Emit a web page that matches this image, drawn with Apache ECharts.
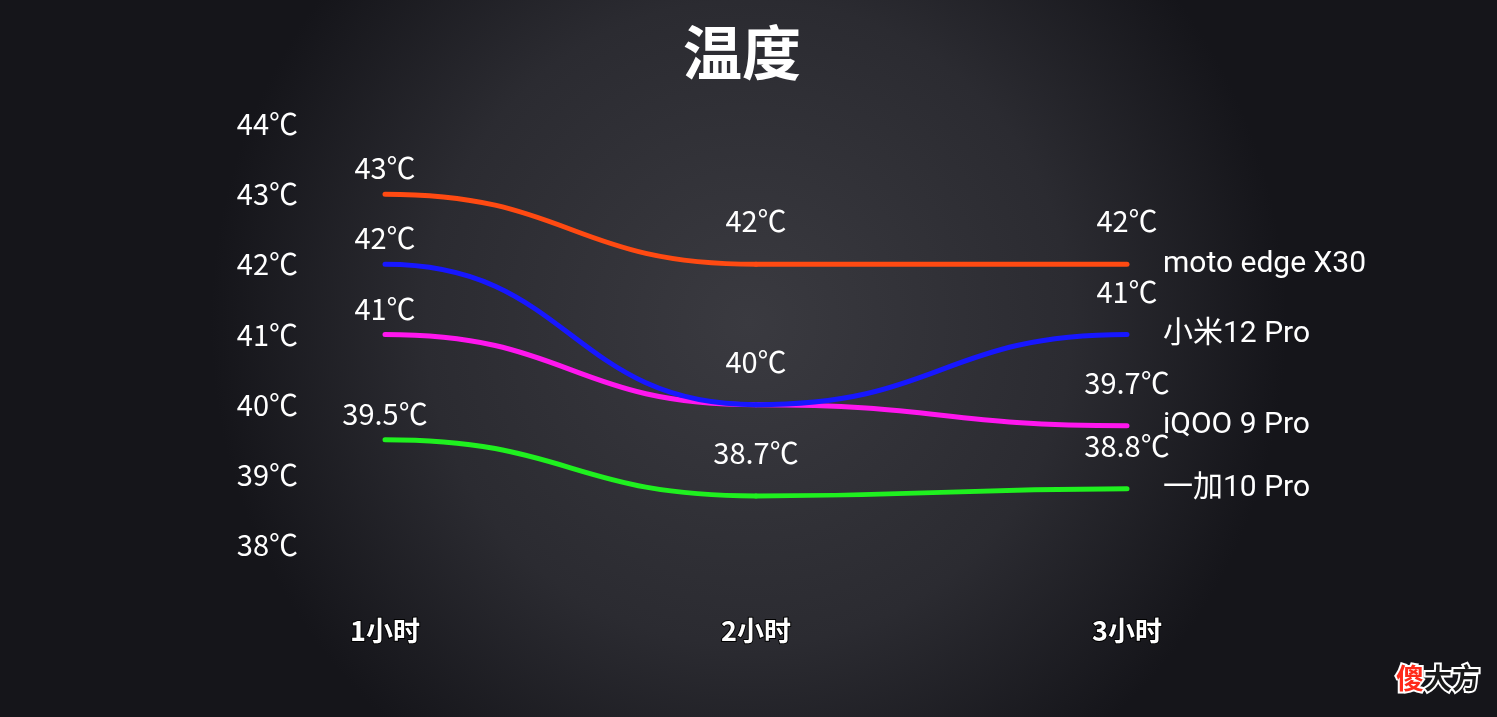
<!DOCTYPE html>
<html><head><meta charset="utf-8">
<script src="https://cdn.jsdelivr.net/npm/echarts@6/dist/echarts.min.js"></script>
<style>html,body{margin:0;padding:0;background:#1c1c20;}#c{width:1497px;height:717px;}</style>
</head><body><div id="c"></div>
<script>
const categories = ['1小时', '2小时', '3小时'];
const yTicks = [38, 39, 40, 41, 42, 43, 44];
const seriesNames = ['moto edge X30', 'iQOO 9 Pro', '小米12 Pro', '一加10 Pro'];
const motoValues = [43, 42, 42];
const iqooValues = [41, 40, 39.7];
const xiaomiValues = [42, 40, 41];
const oneplusValues = [39.5, 38.7, 38.8];
const colors = ['#ff4a12', '#ff16ee', '#1717ff', '#1ff01f'];
const hiddenLabels = [[], [1], [], []];

const chart = echarts.init(document.getElementById('c'));
const font = 'Roboto, "Noto Sans CJK SC", sans-serif';
const cjk = '"Noto Sans CJK SC", sans-serif';
function labelSeries(name, vals, idx) {
  return {
    name: name, type: 'line', showSymbol: true, symbol: 'circle', symbolSize: 1, z: 10,
    itemStyle: { color: 'rgba(0,0,0,0)' }, lineStyle: { opacity: 0 },
    data: vals.map((v, i) => ({
      value: v,
      label: {
        show: hiddenLabels[idx].indexOf(i) < 0,
        position: 'top',
        distance: i === 0 ? 11 : 28,
        formatter: (p) => p.value + '℃',
        color: '#fff', fontSize: 29, fontFamily: cjk
      }
    })),
    endLabel: { show: true, formatter: name, color: '#fff', fontSize: 30, fontFamily: font, distance: 36 },
    labelLayout: { hideOverlap: false }
  };
}
function curveSeries(vals, color, idx) {
  const segs = [];
  for (let i = 0; i < vals.length - 1; i++) segs.push([i, vals[i], vals[i + 1]]);
  return {
    type: 'custom', z: 2 + idx, data: segs, silent: true,
    renderItem: function (params, api) {
      const i = api.value(0);
      const p0 = api.coord([i, api.value(1)]);
      const p1 = api.coord([i + 1, api.value(2)]);
      const mx = (p0[0] + p1[0]) / 2;
      return {
        type: 'bezierCurve',
        shape: { x1: p0[0], y1: p0[1], cpx1: mx, cpy1: p0[1], cpx2: mx, cpy2: p1[1], x2: p1[0], y2: p1[1] },
        style: { stroke: color, lineWidth: 5, fill: null, lineCap: 'round' }
      };
    }
  };
}
const allVals = [motoValues, iqooValues, xiaomiValues, oneplusValues];
const series = [];
allVals.forEach((v, k) => series.push(curveSeries(v, colors[k], k)));
allVals.forEach((v, k) => series.push(labelSeries(seriesNames[k], v, k)));

chart.setOption({
  backgroundColor: {
    type: 'radial', x: 0.5, y: 0.45, r: 0.75,
    colorStops: [{ offset: 0, color: '#3a3a40' }, { offset: 0.6, color: '#2b2b31' }, { offset: 1, color: '#15151a' }]
  },
  title: { text: '温度', left: 678, top: 18, textStyle: { color: '#fff', fontSize: 59, fontWeight: 'bold', fontFamily: cjk } },
  grid: { left: 385, right: 370, top: 124, bottom: 172 },
  xAxis: {
    type: 'category', data: categories, boundaryGap: false,
    axisLine: { show: false }, axisTick: { show: false }, splitLine: { show: false },
    axisLabel: { color: '#fff', fontSize: 27, fontWeight: 'bold', margin: 72, fontFamily: cjk, textBorderColor: '#000', textBorderWidth: 2 }
  },
  yAxis: {
    type: 'value', min: yTicks[0], max: yTicks[yTicks.length - 1], interval: 1,
    axisLine: { show: false }, axisTick: { show: false }, splitLine: { show: false },
    axisLabel: { color: '#fff', fontSize: 29, margin: 87, fontFamily: cjk, formatter: (v) => v + '℃' }
  },
  series: series,
  graphic: [
    { type: 'text', right: 15, top: 662, style: { rich: { a: { fill: '#ff2a1a', fontSize: 28, fontWeight: 'bold', fontFamily: cjk, stroke: '#fff', lineWidth: 4 }, b: { fill: '#1a1a1a', fontSize: 28, fontWeight: 'bold', fontFamily: cjk, stroke: '#fff', lineWidth: 4 } }, text: '{a|傻}{b|大方}' } }
  ]
});
</script></body></html>
